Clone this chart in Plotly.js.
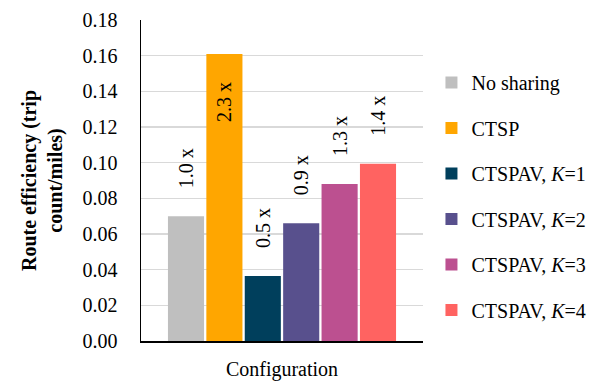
<!DOCTYPE html>
<html><head><meta charset="utf-8">
<script src="https://cdn.plot.ly/plotly-3.0.1.min.js"></script>
<style>body{margin:0;background:#fff}#c{width:613px;height:384px}
#c svg text{font-family:"Liberation Serif","Times New Roman",serif !important}</style>
</head><body><div id="c"></div>
<script>
const seriesNames = ["No sharing","CTSP","CTSPAV, <i>K</i>=1","CTSPAV, <i>K</i>=2","CTSPAV, <i>K</i>=3","CTSPAV, <i>K</i>=4"];
const values = [0.070, 0.161, 0.0365, 0.066, 0.088, 0.0994];
const ratioLabels = ["1.0 x","2.3 x","0.5 x","0.9 x","1.3 x","1.4 x"];
const colors = ["#bfbfbf","#ffa600","#003f5c","#58508d","#bc5090","#ff6361"];
const category = ["Configuration"];
const yTicks = [0,0.02,0.04,0.06,0.08,0.10,0.12,0.14,0.16,0.18];

const FONT = "Times New Roman";
const FS = 20;
const pad = "\u00a0\u00a0\u00a0\u00a0\u00a0";
const traces = seriesNames.map((n,i)=>{
  const inside = i===1;
  return {
    type:"bar", name:n, x:category, y:[values[i]],
    marker:{color:colors[i]},
    text:[inside ? ratioLabels[i]+pad : pad+ratioLabels[i]],
    textposition: inside ? "inside" : "outside",
    insidetextanchor: "end",
    textangle:-90,
    constraintext:"none",
    cliponaxis:false,
    textfont:{family:FONT,size:FS,color:"#000"},
    legendgroup:"g"+i
  };
});
const layout = {
  width:613,height:384,
  margin:{l:141,r:190,t:20,b:43},
  paper_bgcolor:"#fff",plot_bgcolor:"#fff",
  font:{family:FONT,size:FS,color:"#000"},
  barmode:"group",bargap:0.183,bargroupgap:0.06,
  showlegend:true,
  legend:{x:1.03,xanchor:"left",y:0.866,yanchor:"top",tracegroupgap:16.5,
          font:{family:FONT,size:FS,color:"#000"},itemwidth:30,bgcolor:"rgba(0,0,0,0)"},
  xaxis:{showline:true,linecolor:"#000",linewidth:1.5,showticklabels:false,ticks:"",
         title:{text:"Configuration",font:{family:FONT,size:FS,color:"#000"},standoff:20},showgrid:false,zeroline:false},
  yaxis:{range:[0,0.18],tickvals:yTicks,ticktext:yTicks.map(v=>v.toFixed(2)),
         tickfont:{family:FONT,size:FS,color:"#000"},
         showline:true,linecolor:"#000",linewidth:1.5,ticks:"",ticklabelstandoff:18,
         gridcolor:"#d9d9d9",gridwidth:1.5,zeroline:false,
         title:{text:"<b>Route efficiency (trip<br>count/miles)</b>",font:{family:FONT,size:FS,color:"#000"},standoff:14}}
};
Plotly.newPlot("c",traces,layout,{displayModeBar:false,staticPlot:true});
</script></body></html>
